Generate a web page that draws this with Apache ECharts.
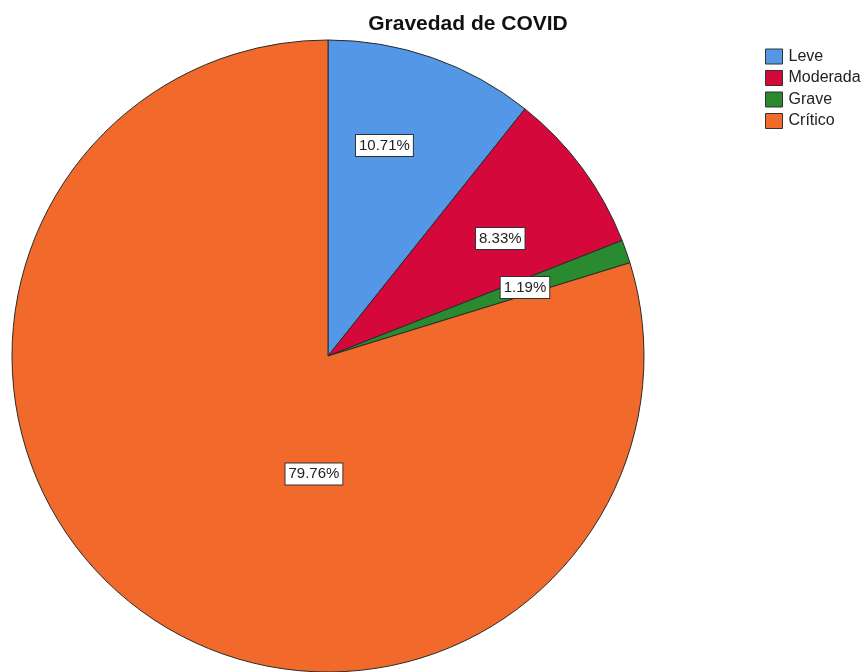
<!DOCTYPE html>
<html>
<head>
<meta charset="utf-8">
<script src="https://cdn.jsdelivr.net/npm/echarts@6/dist/echarts.min.js"></script>
<style>
  html, body { margin: 0; padding: 0; background: #fff; }
  #chart { width: 867px; height: 672px; }
</style>
</head>
<body>
<div id="chart"></div>
<script>
// Severity categories and their share of cases (%)
const categories = ['Leve', 'Moderada', 'Grave', 'Crítico'];
const percentages = [10.71, 8.33, 1.19, 79.76];
const colors = ['#5597E7', '#D5083B', '#2A8A2F', '#F26A2B'];

// Where each percentage label sits: angle (deg, clockwise from top) and
// distance as a fraction of the radius
const labelAngles = [15, 55.7, 70.8, 186.8];
const labelDist = [0.69, 0.66, 0.66, 0.376];

const cx = 328, cy = 356, R = 316;

const chart = echarts.init(document.getElementById('chart'));
chart.setOption({
  animation: false,
  backgroundColor: '#fff',
  title: {
    text: 'Gravedad de COVID',
    left: 468,
    textAlign: 'center',
    top: 14,
    padding: 0,
    textStyle: { fontFamily: 'Liberation Sans, Arial', fontSize: 21, fontWeight: 'bold', color: '#111' }
  },
  legend: {
    orient: 'vertical',
    left: 765,
    top: 48,
    padding: 0,
    itemWidth: 17,
    itemHeight: 15,
    itemGap: 4.5,
    icon: 'rect',
    data: categories,
    itemStyle: { borderColor: '#333', borderWidth: 1 },
    textStyle: { fontFamily: 'Liberation Sans, Arial', fontSize: 16, lineHeight: 17, color: '#222', padding: [0, 0, 0, 1] }
  },
  series: [{
    type: 'pie',
    center: [cx, cy],
    radius: R,
    startAngle: 90,
    clockwise: true,
    data: categories.map((name, i) => ({ name, value: percentages[i], itemStyle: { color: colors[i] } })),
    itemStyle: { borderColor: '#2a2a2a', borderWidth: 1 },
    label: {
      show: true,
      position: 'inside',
      formatter: p => p.value.toFixed(2) + '%',
      fontFamily: 'Liberation Sans, Arial',
      fontSize: 15,
      lineHeight: 16,
      color: '#222',
      backgroundColor: '#fff',
      borderColor: '#333',
      borderWidth: 1,
      padding: [3, 3, 2, 3]
    },
    labelLine: { show: false },
    labelLayout: p => {
      const a = labelAngles[p.dataIndex] * Math.PI / 180;
      const d = labelDist[p.dataIndex] * R;
      return { x: cx + d * Math.sin(a), y: cy - d * Math.cos(a), align: 'center', verticalAlign: 'middle' };
    },
    emphasis: { disabled: true }
  }]
});
</script>
</body>
</html>
